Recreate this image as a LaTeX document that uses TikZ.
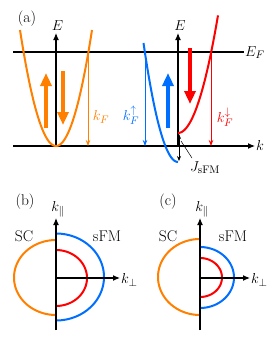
\documentclass[tikz,border=0pt]{standalone}
\usetikzlibrary{arrows.meta}
\definecolor{corange}{RGB}{255,128,0}
\definecolor{cblue}{RGB}{0,110,255}
\definecolor{cred}{RGB}{255,0,0}
\begin{document}
\begin{tikzpicture}[x=1pt,y=-1pt,
  axis/.style={line width=1.1pt,black},
  axisarrow/.style={axis,-{Latex[length=7pt,width=6pt]}},
  band/.style={line width=2pt},
  kfarrow/.style={line width=0.9pt,-{Stealth[length=6pt,width=4.5pt]}},
  bigarrow/.style={line width=3.8pt,-{Triangle[length=13pt,width=11pt]}},
  lbl/.style={inner sep=1pt,font=\fontsize{15.5}{18}\selectfont}]
\useasboundingbox (0,0) rectangle (271,348);
% ---------- panel (a)
\node[lbl,anchor=base] (la) at (27,23) {(a)};
\coordinate (ef0) at (13,52);
\node[lbl,anchor=base west] (EF) at (244,56) {$E_F$};
\draw[axis] (ef0) -- (EF.west|-ef0);
\coordinate (k0) at (13,146);
\coordinate (k1) at (255,146);
\node[lbl,anchor=west] (klab) at (255,145) {$k$};
\draw[axisarrow] (k0) -- (k1);
% left E axis
\coordinate (e1b) at (56,146);
\coordinate (e1t) at (56,33);
\node[lbl,anchor=base] (E1) at (57.5,30) {$E$};
\draw[axisarrow] (e1b) -- (e1t);
% right E axis
\coordinate (e2b) at (178,146);
\coordinate (e2t) at (178,33);
\node[lbl,anchor=base] (E2) at (180,30) {$E$};
\draw[axisarrow] (e2b) -- (e2t);
% bands
\draw[band,corange,domain=-36:36,samples=60,smooth] plot ({56+\x},{146-0.0895*\x*\x});
\draw[band,cblue,domain=-34.5:0,samples=40,smooth] plot ({178+\x},{162-0.1*\x*\x});
\draw[band,cred,domain=0:40,samples=40,smooth] plot ({178+\x},{133-0.0735*\x*\x});
% kF arrows
\coordinate (kfo1) at (88,52); \coordinate (kfo2) at (88,146);
\draw[kfarrow,corange] (kfo1) -- (kfo2);
\node[lbl,corange] (kfo) at (101,117) {$k_F$};
\coordinate (kfb1) at (145,52); \coordinate (kfb2) at (145,146);
\draw[kfarrow,cblue] (kfb1) -- (kfb2);
\node[lbl,cblue] (kfb) at (131,115) {$k_F^{\uparrow}$};
\coordinate (kfr1) at (211,52); \coordinate (kfr2) at (211,146);
\draw[kfarrow,cred] (kfr1) -- (kfr2);
\node[lbl,cred] (kfr) at (225,117) {$k_F^{\downarrow}$};
% thick spin arrows
\coordinate (ou1) at (46,128); \coordinate (ou2) at (46,73);
\draw[bigarrow,corange] (ou1) -- (ou2);
\coordinate (od1) at (63,71); \coordinate (od2) at (63,125);
\draw[bigarrow,corange] (od1) -- (od2);
\coordinate (bu1) at (168,128); \coordinate (bu2) at (168,73);
\draw[bigarrow,cblue] (bu1) -- (bu2);
\coordinate (rd1) at (190,48); \coordinate (rd2) at (190,104);
\draw[bigarrow,cred] (rd1) -- (rd2);
% exchange splitting
\coordinate (j1) at (179,134); \coordinate (j2) at (179,161);
\draw[line width=0.8pt,{Stealth[length=5pt,width=4pt]}-{Stealth[length=5pt,width=4pt]}] (j1) -- (j2);
\node[lbl,anchor=base west] (J) at (189,171) {$J_{\mathrm{sFM}}$};
\coordinate (jp) at (181,141);
\coordinate (jq) at (192,158);
\draw[line width=0.5pt] (jq) -- (jp);
% ---------- panel (b)
\node[lbl] (lb) at (25,202) {(b)};
\draw[band,corange,domain=90:270,samples=60,smooth] plot ({56+42*cos(\x)},{277.5+37.5*sin(\x)});
\draw[band,cblue,domain=-90:90,samples=60,smooth] plot ({56+48*cos(\x)},{277+43.5*sin(\x)});
\draw[band,cred,domain=-90:90,samples=60,smooth] plot ({56+31*cos(\x)},{278+28*sin(\x)});
\coordinate (b0) at (56,278); \coordinate (bpar0) at (56,330); \coordinate (bpar1) at (56,218);
\coordinate (bperp) at (120,278);
\draw[axisarrow] (bpar0) -- (bpar1);
\draw[axisarrow] (b0) -- (bperp);
\node[lbl] (bkpar) at (58,209) {$k_{\|}$};
\node[lbl,anchor=west] (bkperp) at (120,280) {$k_{\perp}$};
\node[lbl] (bsc) at (24,236) {SC};
\node[lbl] (bsfm) at (107,236) {sFM};
% ---------- panel (c)
\node[lbl] (lc) at (168,202) {(c)};
\draw[band,corange,domain=90:270,samples=60,smooth] plot ({200+42*cos(\x)},{277+38*sin(\x)});
\draw[band,cblue,domain=-90:90,samples=60,smooth] plot ({200+34*cos(\x)},{277.5+30.5*sin(\x)});
\draw[band,cred,domain=-90:90,samples=60,smooth] plot ({200+22*cos(\x)},{277.5+19.5*sin(\x)});
\coordinate (c0) at (200,278); \coordinate (cpar0) at (200,330); \coordinate (cpar1) at (200,218);
\coordinate (cperp) at (250,278);
\draw[axisarrow] (cpar0) -- (cpar1);
\draw[axisarrow] (c0) -- (cperp);
\node[lbl] (ckpar) at (202,209) {$k_{\|}$};
\node[lbl,anchor=west] (ckperp) at (250,280) {$k_{\perp}$};
\node[lbl] (csc) at (168,236) {SC};
\node[lbl] (csfm) at (233,236) {sFM};
\end{tikzpicture}
\end{document}
